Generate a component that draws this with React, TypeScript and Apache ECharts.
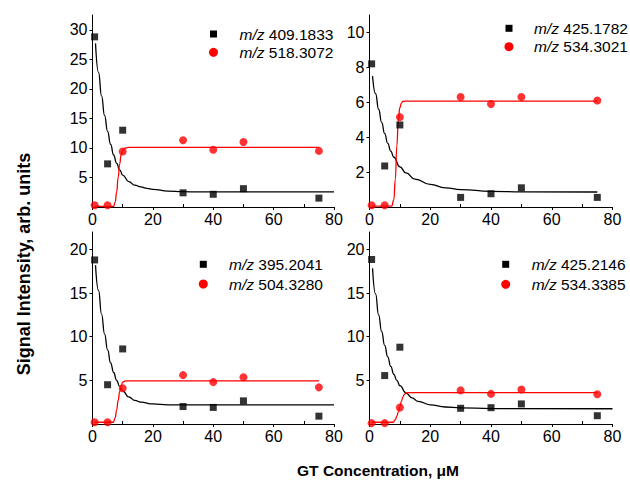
import React, { useEffect, useRef } from "react";
import * as echarts from "echarts";

// GT concentration (µM) of the measured points
const concentrations = [0.7, 5, 10, 30, 40, 50, 75];
const xTickLabels = [0, 20, 40, 60, 80];

// Panel 1
const p1Black = [28.8, 7.3, 13.0, 2.4, 2.15, 3.1, 1.5];
const p1Red = [0.3, 0.3, 9.4, 11.3, 9.7, 11.0, 9.5];
const p1BlackFit: [number, number][] = [[1, 27.7], [2, 22.8], [3, 18.8], [4, 15.5], [5, 12.8], [6, 10.6], [7, 8.8], [8, 7.4], [9, 6.3], [10, 5.4], [12, 4.3], [14, 3.7], [16, 3.4], [18, 3.15], [20, 3.0], [25, 2.7], [30, 2.6], [35, 2.55], [80, 2.55]];
const p1RedFit: [number, number][] = [[0.7, 0.1], [7, 0.1], [7.5, 0.8], [8, 2.5], [8.5, 5.0], [9, 7.3], [9.5, 8.9], [10, 9.6], [11, 10.0], [12, 10.1], [75, 10.1]];

// Panel 2
const p2Black = [8.2, 2.35, 4.7, 0.55, 0.76, 1.1, 0.55];
const p2Red = [0.1, 0.1, 5.15, 6.3, 5.9, 6.3, 6.1];
const p2BlackFit: [number, number][] = [[1, 7.5], [2, 6.5], [3, 5.6], [4, 4.85], [5, 4.2], [6, 3.65], [7, 3.2], [8, 2.85], [10, 2.3], [12, 1.95], [15, 1.6], [20, 1.3], [25, 1.1], [30, 1.0], [40, 0.9], [50, 0.87], [75, 0.86]];
const p2RedFit: [number, number][] = [[0.7, 0.05], [7.3, 0.05], [8, 0.4], [8.5, 1.6], [9, 3.5], [9.5, 5.0], [10, 5.7], [10.5, 5.95], [11, 6.05], [12, 6.07], [75, 6.07]];

// Panel 3
const p3Black = [18.8, 4.5, 8.6, 2.0, 1.9, 2.65, 0.9];
const p3Red = [0.2, 0.2, 4.1, 5.6, 4.8, 5.35, 4.2];
const p3BlackFit: [number, number][] = [[1, 18.2], [2, 15.3], [3, 12.6], [4, 10.3], [5, 8.5], [6, 7.0], [7, 5.9], [8, 5.0], [9, 4.3], [10, 3.8], [12, 3.1], [14, 2.7], [16, 2.5], [20, 2.3], [25, 2.2], [80, 2.2]];
const p3RedFit: [number, number][] = [[0.7, 0.2], [6.9, 0.2], [7.5, 0.7], [8, 1.6], [8.5, 2.7], [9, 3.7], [9.5, 4.4], [10, 4.8], [11, 4.95], [75, 4.95]];

// Panel 4
const p4Black = [18.85, 5.55, 8.8, 1.8, 1.87, 2.3, 0.95];
const p4Red = [0.1, 0.1, 1.9, 3.85, 3.45, 3.95, 3.4];
const p4BlackFit: [number, number][] = [[1, 17.85], [2, 14.9], [3, 12.5], [4, 10.6], [5, 9.0], [6, 7.7], [7, 6.6], [8, 5.7], [9, 5.0], [10, 4.4], [12, 3.55], [14, 3.0], [16, 2.6], [20, 2.2], [25, 1.95], [30, 1.85], [40, 1.77], [80, 1.75]];
const p4RedFit: [number, number][] = [[0.7, 0.2], [7.8, 0.2], [8.5, 0.5], [9, 0.9], [9.5, 1.4], [10, 2.0], [10.5, 2.6], [11, 3.1], [11.5, 3.4], [12, 3.55], [13, 3.6], [75, 3.6]];

// y-axis ranges and tick labels
const yMax = [32.5, 11, 22, 22];
const yInterval = [5, 2, 5, 5];
const yTickLabels = [
  [5, 10, 15, 20, 25, 30],
  [2, 4, 6, 8, 10],
  [5, 10, 15, 20],
  [5, 10, 15, 20],
];

// legend labels (m/z)
const blackLabels = ["409.1833", "425.1782", "395.2041", "425.2146"];
const redLabels = ["518.3072", "534.3021", "504.3280", "534.3385"];

const xTitle = "GT Concentration, \u03bcM";
const yTitle = "Signal Intensity, arb. units";

const FONT = "'Liberation Sans', Arial, Helvetica, sans-serif";

export default function App() {
  const ref = useRef<HTMLDivElement>(null);
  useEffect(() => {
    if (!ref.current) return;
    const chart = echarts.init(ref.current, null, { renderer: "svg" });

    const blackVals = [p1Black, p2Black, p3Black, p4Black];
    const redVals = [p1Red, p2Red, p3Red, p4Red];
    const blackFits = [p1BlackFit, p2BlackFit, p3BlackFit, p4BlackFit];
    const redFits = [p1RedFit, p2RedFit, p3RedFit, p4RedFit];

    const grids = [
      { left: 92.5, top: 15, width: 241.5, height: 192 },
      { left: 369.5, top: 15, width: 243, height: 192 },
      { left: 92.5, top: 232, width: 241.5, height: 192 },
      { left: 369.5, top: 232, width: 243, height: 192 },
    ];
    const legendPos = [
      { sx: 213.5, y1: 34, y2: 52.3, tx: 239.5 },
      { sx: 509, y1: 28.3, y2: 46.7, tx: 534 },
      { sx: 203.3, y1: 264.3, y2: 284, tx: 229 },
      { sx: 505.7, y1: 264.3, y2: 284.3, tx: 531.7 },
    ];

    const xAxes: any[] = [];
    const yAxes: any[] = [];
    const series: any[] = [];
    const graphics: any[] = [];

    grids.forEach((g, i) => {
      xAxes.push({
        type: "value",
        gridIndex: i,
        min: 0,
        max: 80,
        interval: 20,
        axisLine: { show: true, onZero: false, lineStyle: { color: "#000", width: 1 } },
        axisTick: { show: true, inside: false, length: 3, lineStyle: { color: "#000" }, customValues: xTickLabels },
        axisLabel: {
          show: true,
          customValues: xTickLabels,
          margin: 4,
          color: "#000",
          fontSize: 16,
          fontFamily: FONT,
        },
        splitLine: { show: false },
      });
      xAxes.push({
        type: "value",
        gridIndex: i,
        min: 0,
        max: 80,
        interval: 10,
        position: "bottom",
        axisLine: { show: false },
        axisTick: { show: true, inside: true, length: 3, lineStyle: { color: "#000" }, customValues: [10, 30, 50, 70] },
        axisLabel: { show: false },
        splitLine: { show: false },
      });
      const labs = yTickLabels[i];
      yAxes.push({
        type: "value",
        gridIndex: i,
        min: 0,
        max: yMax[i],
        interval: yInterval[i],
        axisLine: { show: true, onZero: false, lineStyle: { color: "#000", width: 1 } },
        axisTick: { show: true, inside: false, length: 3, lineStyle: { color: "#000" }, customValues: labs },
        axisLabel: {
          show: true,
          customValues: labs,
          showMaxLabel: true,
          margin: 5,
          color: "#000",
          fontSize: 16,
          fontFamily: FONT,
        },
        splitLine: { show: false },
      });

      series.push({
        type: "line",
        xAxisIndex: 2 * i,
        yAxisIndex: i,
        data: blackFits[i],
        smooth: true,
        smoothMonotone: "x",
        showSymbol: false,
        symbol: "none",
        lineStyle: { color: "#000", width: 1.3 },
        z: 2,
      });
      series.push({
        type: "line",
        xAxisIndex: 2 * i,
        yAxisIndex: i,
        data: redFits[i],
        smooth: true,
        smoothMonotone: "x",
        showSymbol: false,
        symbol: "none",
        lineStyle: { color: "#ff0000", width: 1.3 },
        z: 2,
      });
      series.push({
        type: "scatter",
        xAxisIndex: 2 * i,
        yAxisIndex: i,
        data: concentrations.map((c, k) => [c, blackVals[i][k]]),
        symbol: "rect",
        symbolSize: 7,
        itemStyle: { color: "#000" },
        z: 3,
      });
      series.push({
        type: "scatter",
        xAxisIndex: 2 * i,
        yAxisIndex: i,
        data: concentrations.map((c, k) => [c, redVals[i][k]]),
        symbol: "circle",
        symbolSize: 8,
        itemStyle: { color: "#ff0000" },
        z: 3,
      });

      const lp = legendPos[i];
      graphics.push({
        type: "rect",
        shape: { x: lp.sx - 3.5, y: lp.y1 - 3.5, width: 7, height: 7 },
        style: { fill: "#000" },
      });
      graphics.push({
        type: "circle",
        shape: { cx: lp.sx, cy: lp.y2, r: 4.5 },
        style: { fill: "#ff0000" },
      });
      [blackLabels[i], redLabels[i]].forEach((lab, k) => {
        graphics.push({
          type: "text",
          x: lp.tx,
          y: k === 0 ? lp.y1 : lp.y2,
          style: {
            text: "{i|m/z} " + lab,
            rich: { i: { fontStyle: "italic", fontSize: 15.5, fontFamily: FONT, fill: "#000" } },
            fontSize: 15.5,
            fontFamily: FONT,
            fill: "#000",
            verticalAlign: "middle",
            align: "left",
          },
        });
      });
    });

    graphics.push({
      type: "text",
      x: 378,
      y: 470,
      style: {
        text: xTitle,
        fontSize: 15.5,
        fontWeight: "bold",
        fontFamily: FONT,
        fill: "#000",
        align: "center",
        verticalAlign: "middle",
      },
    });
    graphics.push({
      type: "text",
      x: 24,
      y: 264,
      rotation: Math.PI / 2,
      style: {
        text: yTitle,
        fontSize: 18,
        fontWeight: "bold",
        fontFamily: FONT,
        fill: "#000",
        align: "center",
        verticalAlign: "middle",
      },
    });

    chart.setOption({
      animation: false,
      backgroundColor: "#fff",
      grid: grids.map((g) => ({ ...g, containLabel: false })),
      xAxis: xAxes,
      yAxis: yAxes,
      series,
      graphic: graphics,
    });
    return () => chart.dispose();
  }, []);
  return (
    <div
      ref={ref}
      style={{ position: "fixed", left: 0, top: 0, width: 630, height: 482 }}
    />
  );
}
